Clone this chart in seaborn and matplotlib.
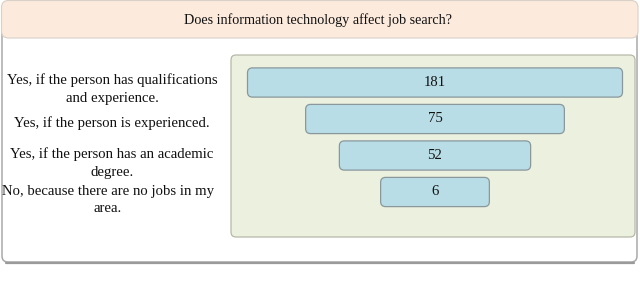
import matplotlib
matplotlib.use("Agg")
import matplotlib.pyplot as plt
from matplotlib.patches import FancyBboxPatch
import seaborn as sns
import pandas as pd

# ---- data ----
title = "Does information technology affect job search?"
categories = [
    "Yes, if the person has qualifications\nand experience.",
    "Yes, if the person is experienced.",
    "Yes, if the person has an academic\ndegree.",
    "No, because there are no jobs in my\narea.",
]
counts = [181, 75, 52, 6]
# relative funnel widths as drawn in the picture (widest = 100)
funnel_width = [100, 69, 51, 29]

df = pd.DataFrame({"category": categories, "count": counts, "width": funnel_width})

sns.set_theme(style="white")
plt.rcParams["font.family"] = ["Liberation Serif", "DejaVu Serif"]

W, H = 640, 281
fig = plt.figure(figsize=(W / 100, H / 100), dpi=100)
fig.patch.set_facecolor("white")

# background axes in pixel coordinates
bg = fig.add_axes([0, 0, 1, 1])
bg.set_xlim(0, W)
bg.set_ylim(H, 0)
bg.axis("off")

# outer frame
bg.add_patch(FancyBboxPatch((2, 20), 635, 242, boxstyle="round,pad=0,rounding_size=6",
                            facecolor="white", edgecolor="#a9a9a9", lw=1.1, zorder=1))
bg.plot([6, 634], [262.5, 262.5], color="#9a9a9a", lw=1.6, zorder=2)
# header band
bg.add_patch(FancyBboxPatch((1.5, 0.5), 636.5, 37.5, boxstyle="round,pad=0,rounding_size=7",
                            facecolor="#fcebdd", edgecolor="#d9d0c8", lw=0.8, zorder=3))
bg.text(318, 20, title, ha="center", va="center", fontsize=10.2, color="#111111", zorder=4)

# green panel
bg.add_patch(FancyBboxPatch((231, 55), 404, 182, boxstyle="round,pad=0,rounding_size=5",
                            facecolor="#ecf0df", edgecolor="#b7b8a8", lw=0.9, zorder=3))

# left labels
label_x = [112, 112, 112, 108]
label_y = [89, 123, 163.5, 200]
for cat, lx, ly in zip(categories, label_x, label_y):
    bg.text(lx, ly, cat, ha="center", va="center", fontsize=10.6, color="#111111",
            linespacing=1.5, zorder=4)

# funnel axes over the green panel
ax = fig.add_axes([231 / W, (H - 237) / H, 404 / W, 182 / H])
ax.patch.set_alpha(0)
sns.barplot(data=df, x="width", y="category", orient="h", ax=ax, width=0.8,
            color="#b8dde6", saturation=1)
xscale = 375 / 100.0  # px per unit
ax.set_xlim(-204 / xscale, 200 / xscale)
ax.set_ylim(3 + 45 / 36.5, -27.5 / 36.5)
ax.axis("off")

rx = 5 / xscale
ry = 5 / 36.5
for p, val in zip(list(ax.patches), counts):
    y0, h, w = p.get_y(), p.get_height(), p.get_width()
    p.remove()
    box = FancyBboxPatch((-w / 2, y0), w, h,
                         boxstyle=f"round,pad=0,rounding_size={rx}",
                         mutation_aspect=ry / rx,
                         facecolor="#b8dde6", edgecolor="#8a989c", lw=0.9, zorder=5)
    ax.add_patch(box)
    ax.text(0, y0 + h / 2, str(val), ha="center", va="center", fontsize=10.6,
            color="#111111", zorder=6)

fig.savefig("out.png", dpi=100)
